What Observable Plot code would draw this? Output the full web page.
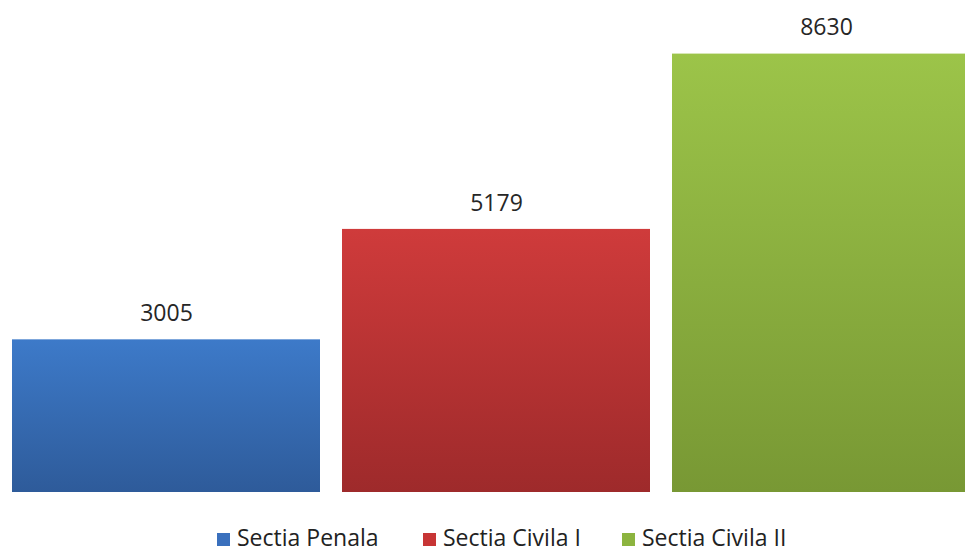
<!DOCTYPE html>
<html>
<head>
<meta charset="utf-8">
<script src="https://cdn.jsdelivr.net/npm/d3@7"></script>
<script src="https://cdn.jsdelivr.net/npm/@observablehq/plot@0.6"></script>
<style>
  html, body { margin: 0; padding: 0; background: #fff; overflow: hidden; width: 965px; height: 554px; }
  #chart { position: absolute; left: 0; top: 0; }
  #chart svg { overflow: hidden; }
  #legend { position: absolute; top: 524px; left: 0; width: 965px; height: 27px; font-family: "Open Sans", sans-serif; font-size: 23px; color: #222; }
  .item { position: absolute; top: 0; white-space: nowrap; line-height: 27px; }
  .sw { display: inline-block; width: 13px; height: 13px; margin-right: 7px; vertical-align: 0px; }
</style>
</head>
<body>
<div id="chart"></div>
<div id="legend"></div>
<script>
const categories = ["Sectia Penala", "Sectia Civila I", "Sectia Civila II"];
const values = [3005, 5179, 8630];
const topColors = ["#3d7ac9", "#cf3b3b", "#9cc449"];
const bottomColors = ["#2e5b9a", "#9e2a2b", "#789834"];
const legendColors = ["#3a70bd", "#c73535", "#8cb43f"];

const data = categories.map((c, i) => ({category: c, value: values[i]}));

const plot = Plot.plot({
  width: 965,
  height: 500,
  marginTop: 0,
  marginBottom: 8,
  marginLeft: 0,
  marginRight: 0,
  x: {type: "band", domain: categories, range: [12, 980], paddingInner: 0.068, paddingOuter: 0, align: 0, axis: null},
  y: {domain: [0, 9685], axis: null},
  color: {domain: categories, range: categories.map((c, i) => `url(#grad${i})`)},
  marks: [
    Plot.barY(data, {x: "category", y: "value", fill: "category", clip: true}),
    Plot.text(data, {x: "category", y: "value", text: d => String(d.value), dy: -26,
      fontSize: 23, fill: "#262626", fontFamily: "Open Sans, sans-serif"})
  ]
});

const ns = "http://www.w3.org/2000/svg";
const defs = document.createElementNS(ns, "defs");
categories.forEach((c, i) => {
  const g = document.createElementNS(ns, "linearGradient");
  g.setAttribute("id", `grad${i}`);
  g.setAttribute("x1", "0"); g.setAttribute("y1", "0");
  g.setAttribute("x2", "0"); g.setAttribute("y2", "1");
  const s1 = document.createElementNS(ns, "stop");
  s1.setAttribute("offset", "0"); s1.setAttribute("stop-color", topColors[i]);
  const s2 = document.createElementNS(ns, "stop");
  s2.setAttribute("offset", "1"); s2.setAttribute("stop-color", bottomColors[i]);
  g.appendChild(s1); g.appendChild(s2);
  defs.appendChild(g);
});
plot.insertBefore(defs, plot.firstChild);
document.getElementById("chart").appendChild(plot);

const legendLefts = [217, 423, 622];
const legend = document.getElementById("legend");
categories.forEach((c, i) => {
  const item = document.createElement("div");
  item.className = "item";
  item.style.left = legendLefts[i] + "px";
  const sw = document.createElement("span");
  sw.className = "sw";
  sw.style.background = legendColors[i];
  item.appendChild(sw);
  item.appendChild(document.createTextNode(c));
  legend.appendChild(item);
});
</script>
</body>
</html>
